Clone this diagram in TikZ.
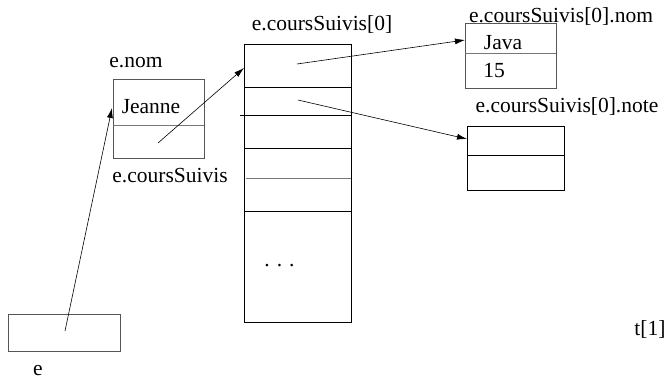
\documentclass[tikz,border=0pt]{standalone}
\usepackage{fontspec}
\setmainfont{Liberation Serif}
\usetikzlibrary{arrows.meta}
\definecolor{boxgray}{HTML}{555555}
\definecolor{linegray}{HTML}{777777}
\begin{document}
\begin{tikzpicture}[x=1pt,y=-1pt,
  box/.style={draw=boxgray, line width=0.9pt, inner sep=0pt, anchor=north west},
  lbl/.style={inner sep=0pt, anchor=base, font=\fontsize{21.5}{25}\selectfont},
  divider/.style={draw=black, line width=0.8pt},
  softdiv/.style={draw=linegray, line width=0.9pt},
  ptr/.style={-{Latex[length=10pt,width=6pt]}, line width=0.6pt},
]
\useasboundingbox (0,0) rectangle (668,381);

% object e
\node[box, minimum width=112pt, minimum height=37pt] (ebox) at (8,314) {};
\node[lbl] (elbl) at (38,375) {e};

% object with nom / coursSuivis
\node[box, minimum width=91pt, minimum height=79pt] (objbox) at (113,79) {};
\draw[softdiv] (113,125) -- (204,125);
\node[lbl] (jeanne) at (151,113) {Jeanne};
\node[lbl] (enom) at (136,67) {e.nom};
\node[lbl] (ecs) at (170,182) {e.coursSuivis};

% array
\node[box, draw=black, minimum width=107pt, minimum height=278pt] (arr) at (244,44) {};
\draw[divider] (244,87) -- (351,87);
\draw[divider] (240,115) -- (351,115);
\draw[divider] (244,148) -- (351,148);
\draw[softdiv] (246,178) -- (351,178);
\draw[divider] (244,211) -- (351,211);
\node[lbl] (arrlbl) at (322,30) {e.coursSuivis[0]};
\node[lbl] (dots) at (279.5,266) {.\hspace{7pt}.\hspace{7pt}.};

% Java box
\node[box, minimum width=91pt, minimum height=65pt] (javabox) at (465,23) {};
\draw[softdiv] (465,53) -- (556,53);
\node[lbl] (java) at (503,49) {Java};
\node[lbl] (quinze) at (494,77) {15};
\node[lbl] (nomlbl) at (561,22) {e.coursSuivis[0].nom};

% note box
\node[box, draw=black, minimum width=97pt, minimum height=64pt] (notebox) at (467,126) {};
\draw[divider] (467,155) -- (564,155);
\node[lbl] (notelbl) at (567,112) {e.coursSuivis[0].note};

\node[lbl] (t1) at (650,335) {t[1]};

% pointer coordinates
\coordinate (p0) at (65,331);
\coordinate (t0) at (112,108);
\coordinate (p1) at (158,143);
\coordinate (t1p) at (244,68);
\coordinate (p2) at (297,64);
\coordinate (t2) at (465,40);
\coordinate (p3) at (298,100);
\coordinate (t3) at (467,139);

\draw[ptr] (p0) -- (t0);
\draw[ptr] (p1) -- (t1p);
\draw[ptr] (p2) -- (t2);
\draw[ptr] (p3) -- (t3);
\end{tikzpicture}
\end{document}
